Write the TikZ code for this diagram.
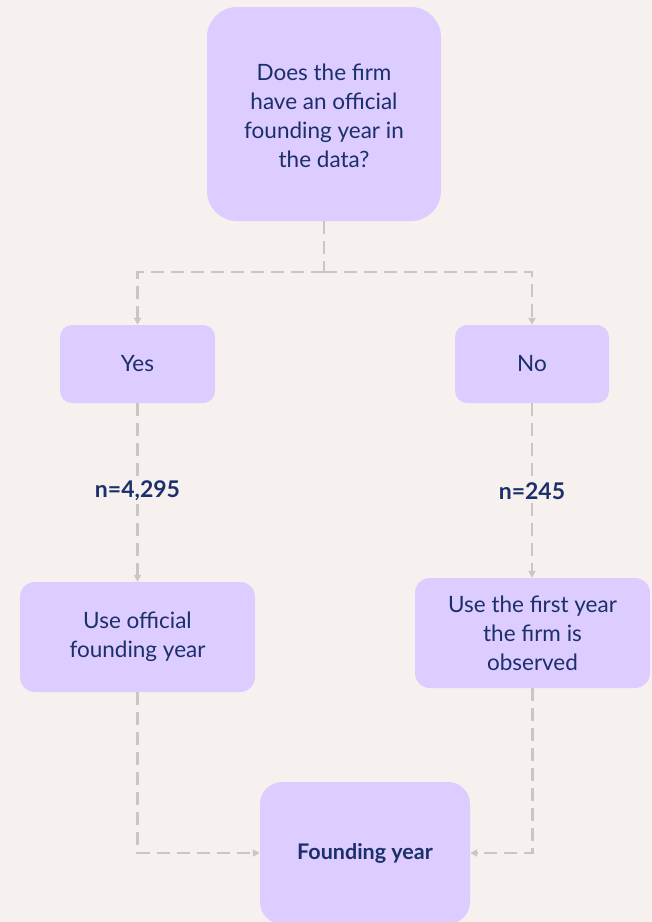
\documentclass[tikz,border=0pt]{standalone}
\usepackage{fontspec}
\setmainfont{Lato}
\usetikzlibrary{arrows.meta,positioning}
\definecolor{pagebg}{HTML}{F6F1EE}
\definecolor{boxfill}{HTML}{DDCCFF}
\definecolor{ink}{HTML}{1B2F6B}
\definecolor{linkgray}{HTML}{C9C7C5}
\tikzset{
  box/.style={draw=none, fill=boxfill, rounded corners=#1, text=ink,
    align=center, inner sep=0pt, font=\fontsize{22.5}{29}\selectfont},
  box/.default=14pt,
  link/.style={draw=linkgray, line width=2.1pt, dash pattern=on 13pt off 7pt},
  arr/.style={link, -{Triangle[length=7pt,width=7pt]}},
  count/.style={fill=pagebg, text=ink, inner sep=3pt,
    font=\fontsize{23}{26}\selectfont\bfseries},
}
\begin{document}
\begin{tikzpicture}[x=1pt,y=-1pt]
  % canvas
  \fill[pagebg] (0,0) rectangle (652,922);
  \useasboundingbox (0,0) rectangle (652,922);

  % decision box and branches
  \node[box=30pt, minimum width=234pt, minimum height=214pt] (q) at (324,114)
    {\strut Does the firm\\have an official\\founding year in\\the data?};
  \node[box=12pt, minimum width=155pt, minimum height=78pt] (yes) at (137.5,364) {Yes};
  \node[box=12pt, minimum width=154pt, minimum height=78pt] (no) at (532,364) {No};

  % outcome boxes
  \node[box=15pt, minimum width=235pt, minimum height=110pt] (off) at (137.5,637)
    {Use official\\founding year};
  \node[box=15pt, minimum width=235pt, minimum height=110pt] (first) at (532.5,633)
    {Use the first year\\the firm is\\observed};
  \begin{scope}
    \clip (0,0) rectangle (652,922);
    \node[box=22pt, minimum width=210pt, minimum height=142pt,
      font=\fontsize{21.5}{24}\selectfont\bfseries] (fy) at (365,853) {Founding year};
  \end{scope}

  % split below the question
  \coordinate (split) at (q.south |- 0,272);
  \draw[link] (q.south) -- (split);
  \draw[arr] (split) -| (yes.north);
  \draw[arr] (split) -| (no.north);

  % counts on each branch
  \draw[arr] (yes.south) -- (off.north)
    node[count, pos=0.49] (nyes) {n=4,295};
  \draw[arr] (no.south) -- (no.south |- first.north)
    node[count, pos=0.505] (nno) {n=245};

  % merge into the result
  \draw[arr] (off.south) |- (fy.west);
  \draw[arr] (first.south) |- (fy.east);
\end{tikzpicture}
\end{document}
